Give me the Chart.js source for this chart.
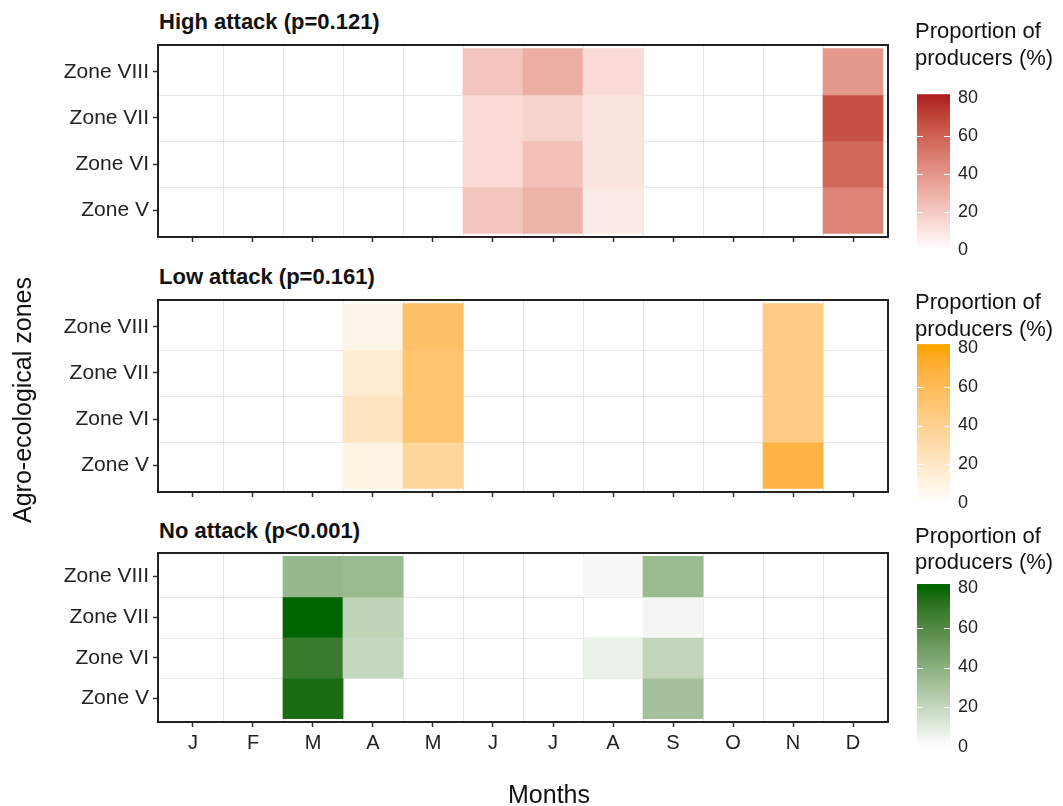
<!DOCTYPE html>
<html>
<head>
<meta charset="utf-8">
<script src="https://cdn.jsdelivr.net/npm/chart.js@4.4.1/dist/chart.umd.min.js"></script>
<style>
  body { margin: 0; background: #fff; width: 1063px; height: 806px; overflow: hidden; position: relative;
         font-family: "Liberation Sans", Arial, sans-serif; color: #111; }
  canvas { position: absolute; left: 0; }
  .title { position: absolute; left: 159px; font-size: 22px; font-weight: bold; line-height: 24px; white-space: nowrap; }
  #xlab { position: absolute; left: 449px; width: 200px; text-align: center; top: 780px; font-size: 25px; line-height: 28px; }
  #ylab { position: absolute; left: -128px; top: 386px; width: 300px; text-align: center; font-size: 25px; line-height: 28px;
          transform: rotate(-90deg); white-space: nowrap; }
</style>
</head>
<body>
<div class="title" style="top:10px">High attack (p=0.121)</div>
<div class="title" style="top:265px">Low attack (p=0.161)</div>
<div class="title" style="top:519px">No attack (p&lt;0.001)</div>
<canvas id="high" width="1063" height="262" style="top:0px"></canvas>
<canvas id="low" width="1063" height="254" style="top:262px"></canvas>
<canvas id="none" width="1063" height="290" style="top:516px"></canvas>
<div id="xlab">Months</div>
<div id="ylab">Agro-ecological zones</div>
<script>
const months = ['J', 'F', 'M', 'A', 'M', 'J', 'J', 'A', 'S', 'O', 'N', 'D'];
const zones = ['Zone V', 'Zone VI', 'Zone VII', 'Zone VIII'];
const legendTicks = [0, 20, 40, 60, 80];

// proportion of producers (%) per month, one array per zone
const highV    = [0, 0, 0, 0, 0, 22, 29, 8, 0, 0, 0, 47];
const highVI   = [0, 0, 0, 0, 0, 14, 24, 10, 0, 0, 0, 57];
const highVII  = [0, 0, 0, 0, 0, 14, 16, 10, 0, 0, 0, 66];
const highVIII = [0, 0, 0, 0, 0, 22, 31, 14, 0, 0, 0, 39];

const lowV    = [0, 0, 0, 10, 36, 0, 0, 0, 0, 0, 66, 0];
const lowVI   = [0, 0, 0, 23, 52, 0, 0, 0, 0, 0, 44, 0];
const lowVII  = [0, 0, 0, 16, 52, 0, 0, 0, 0, 0, 44, 0];
const lowVIII = [0, 0, 0, 8, 55, 0, 0, 0, 0, 0, 44, 0];

const noneV    = [0, 0, 76, 0, 0, 0, 0, 0, 31, 0, 0, 0];
const noneVI   = [0, 0, 68, 20, 0, 0, 0, 7, 21, 0, 0, 0];
const noneVII  = [0, 0, 80, 22, 0, 0, 0, 0, 4, 0, 0, 0];
const noneVIII = [0, 0, 36, 35, 0, 0, 0, 3, 35, 0, 0, 0];

// white -> colour ramp in Lab space, like ggplot's scale_fill_gradient
function toLin(c) { c /= 255; return c <= 0.04045 ? c / 12.92 : Math.pow((c + 0.055) / 1.055, 2.4); }
function fromLin(c) {
    c = c <= 0.0031308 ? 12.92 * c : 1.055 * Math.pow(Math.max(c, 0), 1 / 2.4) - 0.055;
    return Math.round(Math.max(0, Math.min(1, c)) * 255);
}
function hexToLab(hex) {
    let r = toLin(parseInt(hex.slice(1, 3), 16)), g = toLin(parseInt(hex.slice(3, 5), 16)), b = toLin(parseInt(hex.slice(5, 7), 16));
    let x = (0.4124 * r + 0.3576 * g + 0.1805 * b) / 0.95047;
    let y = 0.2126 * r + 0.7152 * g + 0.0722 * b;
    let z = (0.0193 * r + 0.1192 * g + 0.9505 * b) / 1.08883;
    const f = t => t > 0.008856 ? Math.cbrt(t) : 7.787 * t + 16 / 116;
    return [116 * f(y) - 16, 500 * (f(x) - f(y)), 200 * (f(y) - f(z))];
}
function labToRgb(lab) {
    let fy = (lab[0] + 16) / 116, fx = fy + lab[1] / 500, fz = fy - lab[2] / 200;
    const inv = t => t * t * t > 0.008856 ? t * t * t : (t - 16 / 116) / 7.787;
    let x = inv(fx) * 0.95047, y = inv(fy), z = inv(fz) * 1.08883;
    let r = 3.2406 * x - 1.5372 * y - 0.4986 * z;
    let g = -0.9689 * x + 1.8758 * y + 0.0415 * z;
    let b = 0.0557 * x - 0.2040 * y + 1.0570 * z;
    return `rgb(${fromLin(r)},${fromLin(g)},${fromLin(b)})`;
}
function rampColor(high, v) {
    let lo = hexToLab('#FFFFFF'), hi = hexToLab(high), t = Math.min(v / 80, 1);
    return labToRgb(lo.map((c, i) => c + (hi[i] - c) * t));
}

const heatPlugin = {
    id: 'heat',
    beforeDatasetsDraw(chart) {
        const { ctx, chartArea: a, scales: { x, y } } = chart;
        ctx.save();
        ctx.strokeStyle = '#e6e6e6';
        ctx.lineWidth = 1;
        ctx.beginPath();
        for (let i = 0; i < 11; i++) {
            let px = Math.round(x.getPixelForValue(i + 0.5)) + 0.5;
            ctx.moveTo(px, a.top); ctx.lineTo(px, a.bottom);
        }
        for (let z of [1.5, 2.5, 3.5]) {
            let py = Math.round(y.getPixelForValue(z)) + 0.5;
            ctx.moveTo(a.left, py); ctx.lineTo(a.right, py);
        }
        ctx.stroke();
        ctx.restore();
    },
    afterDraw(chart, args, opts) {
        const { ctx, chartArea: a } = chart;
        ctx.save();
        ctx.strokeStyle = '#222';
        ctx.lineWidth = 2;
        ctx.strokeRect(a.left, a.top, a.right - a.left, a.bottom - a.top);

        // colour bar legend
        const off = opts.canvasTop;
        const y0 = opts.y0 - off, y80 = opts.y80 - off;
        const yFor = v => y0 + (y80 - y0) * v / 80;
        const barL = 917, barW = 33, top = yFor(82);
        let grad = ctx.createLinearGradient(0, y0, 0, top);
        for (let v = 0; v <= 82; v += 2) grad.addColorStop(v / 82, rampColor(opts.high, v));
        ctx.fillStyle = grad;
        ctx.fillRect(barL, top, barW, y0 - top);
        ctx.strokeStyle = '#fff';
        ctx.lineWidth = 1;
        ctx.beginPath();
        for (let v of [20, 40, 60]) {
            let py = Math.round(yFor(v)) + 0.5;
            ctx.moveTo(barL, py); ctx.lineTo(barL + 6, py);
            ctx.moveTo(barL + barW - 6, py); ctx.lineTo(barL + barW, py);
        }
        ctx.stroke();
        ctx.fillStyle = '#222';
        ctx.textBaseline = 'middle';
        ctx.font = '18px "Liberation Sans", Arial, sans-serif';
        legendTicks.forEach(v => ctx.fillText(String(v), 958, yFor(v)));
        ctx.fillStyle = '#111';
        ctx.font = '22px "Liberation Sans", Arial, sans-serif';
        ctx.fillText('Proportion of', 915, opts.t1 - off);
        ctx.fillText('producers (%)', 915, opts.t2 - off);
        ctx.restore();
    }
};

function makePanel(id, rows, high, layout) {
    let cells = [], colors = [];
    rows.forEach((vals, zi) => vals.forEach((v, m) => {
        if (v > 0) {
            cells.push({ x: m, y: [zi + 0.5, zi + 1.5] });
            colors.push(rampColor(high, v));
        }
    }));
    const h = document.getElementById(id).height;
    new Chart(document.getElementById(id), {
        type: 'bar',
        data: {
            datasets: [{ data: cells, backgroundColor: colors, borderWidth: 0, barPercentage: 1, categoryPercentage: 1 }]
        },
        options: {
            responsive: false,
            animation: false,
            layout: { padding: { top: layout.boxTop - layout.canvasTop, right: 175, bottom: 0, left: 0 } },
            plugins: {
                legend: { display: false },
                tooltip: { enabled: false },
                heat: Object.assign({ high }, layout)
            },
            scales: {
                x: {
                    type: 'linear', min: -0.583, max: 11.583, offset: false,
                    afterBuildTicks: s => { s.ticks = months.map((m, i) => ({ value: i })); },
                    afterFit: s => { s.height = h - (layout.boxBottom - layout.canvasTop); },
                    border: { display: false },
                    grid: { offset: false, drawOnChartArea: false, drawTicks: true, tickLength: 5, tickColor: '#333', tickWidth: 1.5 },
                    ticks: {
                        display: layout.labels, autoSkip: false, maxRotation: 0, padding: 4, color: '#222',
                        font: { size: 20, family: '"Liberation Sans", Arial, sans-serif' },
                        callback: v => months[v]
                    }
                },
                y: {
                    type: 'linear', min: 0.42, max: 4.58,
                    afterBuildTicks: s => { s.ticks = zones.map((z, i) => ({ value: i + 1 })); },
                    afterFit: s => { s.width = 158; },
                    border: { display: false },
                    grid: { drawOnChartArea: false, drawTicks: true, tickLength: 5, tickColor: '#333', tickWidth: 1.5 },
                    ticks: {
                        autoSkip: false, padding: 4, color: '#222',
                        font: { size: 21, family: '"Liberation Sans", Arial, sans-serif' },
                        callback: v => zones[v - 1]
                    }
                }
            }
        },
        plugins: [heatPlugin]
    });
}

makePanel('high', [highV, highVI, highVII, highVIII], '#B22222',
    { canvasTop: 0, boxTop: 45, boxBottom: 237, labels: false, t1: 32, t2: 59, y80: 98, y0: 250 });
makePanel('low', [lowV, lowVI, lowVII, lowVIII], '#FFA500',
    { canvasTop: 262, boxTop: 300, boxBottom: 492, labels: false, t1: 303, t2: 330, y80: 348, y0: 503 });
makePanel('none', [noneV, noneVI, noneVII, noneVIII], '#006400',
    { canvasTop: 516, boxTop: 553, boxBottom: 722, labels: true, t1: 537, t2: 563, y80: 588, y0: 747 });
</script>
</body>
</html>
